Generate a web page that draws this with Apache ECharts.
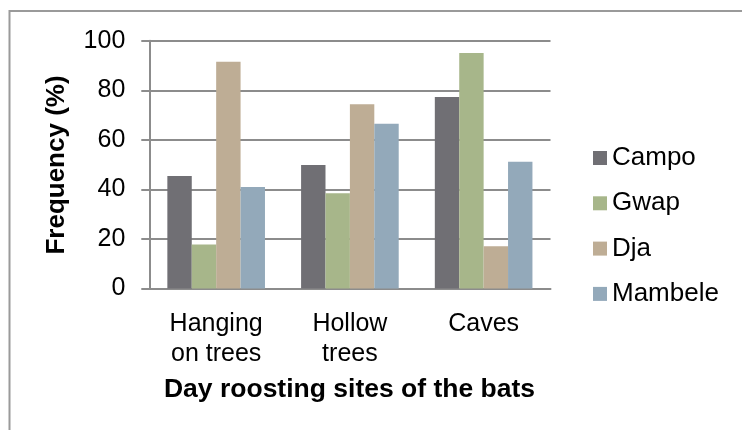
<!DOCTYPE html>
<html>
<head>
<meta charset="utf-8">
<script src="https://cdn.jsdelivr.net/npm/echarts@6/dist/echarts.min.js"></script>
<style>
  html, body { margin: 0; padding: 0; background: #fff; }
  #chart { width: 742px; height: 430px; }
</style>
</head>
<body>
<div id="chart"></div>
<script>
// Day roosting sites and bat frequency per locality
const sites = ['Hanging\non trees', 'Hollow\ntrees', 'Caves'];
const campo = [45.4, 49.8, 77.3];
const gwap = [17.8, 38.4, 95.0];
const dja = [91.5, 74.4, 17.0];
const mambele = [41.0, 66.5, 51.2];
const yTicks = [0, 20, 40, 60, 80, 100];

const FONT = '"Liberation Sans", Arial, sans-serif';
const AXIS_GRAY = '#8c8c8c';

const chart = echarts.init(document.getElementById('chart'), null, { renderer: 'canvas' });

function barSeries(name, data, color) {
  return {
    name: name,
    type: 'bar',
    data: data,
    barGap: '0%',
    barCategoryGap: '27%',
    itemStyle: { color: color },
    emphasis: { disabled: true }
  };
}

chart.setOption({
  animation: false,
  textStyle: { fontFamily: FONT },
  grid: { left: 149.3, right: 191.5, top: 40.7, bottom: 141.5, containLabel: false },
  legend: {
    orient: 'vertical',
    left: 593,
    top: 143,
    padding: 0,
    itemWidth: 14,
    itemHeight: 14,
    itemGap: 15.3,
    icon: 'rect',
    selectedMode: false,
    textStyle: { fontFamily: FONT, fontSize: 26, color: '#000', lineHeight: 30, padding: [0, 0, 0, 0] },
    data: ['Campo', 'Gwap', 'Dja', 'Mambele']
  },
  xAxis: {
    type: 'category',
    data: sites,
    axisLine: { show: true, lineStyle: { color: AXIS_GRAY, width: 2 } },
    axisTick: { show: false },
    axisLabel: {
      fontFamily: FONT, fontSize: 25, color: '#000', lineHeight: 30, margin: 21,
      interval: 0
    }
  },
  yAxis: {
    type: 'value',
    min: yTicks[0],
    max: yTicks[yTicks.length - 1],
    interval: 20,
    axisLine: { show: true, lineStyle: { color: AXIS_GRAY, width: 2 } },
    axisTick: { show: true, inside: false, length: 8, lineStyle: { color: AXIS_GRAY, width: 2 } },
    axisLabel: { fontFamily: FONT, fontSize: 25, color: '#000', margin: 24 },
    splitLine: { show: true, lineStyle: { color: AXIS_GRAY, width: 2 } }
  },
  series: [
    barSeries('Campo', campo, '#706f74'),
    barSeries('Gwap', gwap, '#a7b68a'),
    barSeries('Dja', dja, '#bead95'),
    barSeries('Mambele', mambele, '#93a9ba')
  ],
  graphic: [
    {
      type: 'rect',
      silent: true,
      z: -10,
      shape: { x: 9.5, y: 11, width: 800, height: 500 },
      style: { fill: 'none', stroke: '#9a9a9a', lineWidth: 2 }
    },
    {
      type: 'text',
      silent: true,
      x: 57,
      y: 165,
      rotation: Math.PI / 2,
      style: {
        text: 'Frequency (%)',
        font: 'bold 26px ' + FONT,
        fill: '#000',
        align: 'center',
        verticalAlign: 'middle'
      }
    },
    {
      type: 'text',
      silent: true,
      x: 349.5,
      y: 390,
      style: {
        text: 'Day roosting sites of the bats',
        font: 'bold 26.5px ' + FONT,
        fill: '#000',
        align: 'center',
        verticalAlign: 'middle'
      }
    }
  ]
});
</script>
</body>
</html>
